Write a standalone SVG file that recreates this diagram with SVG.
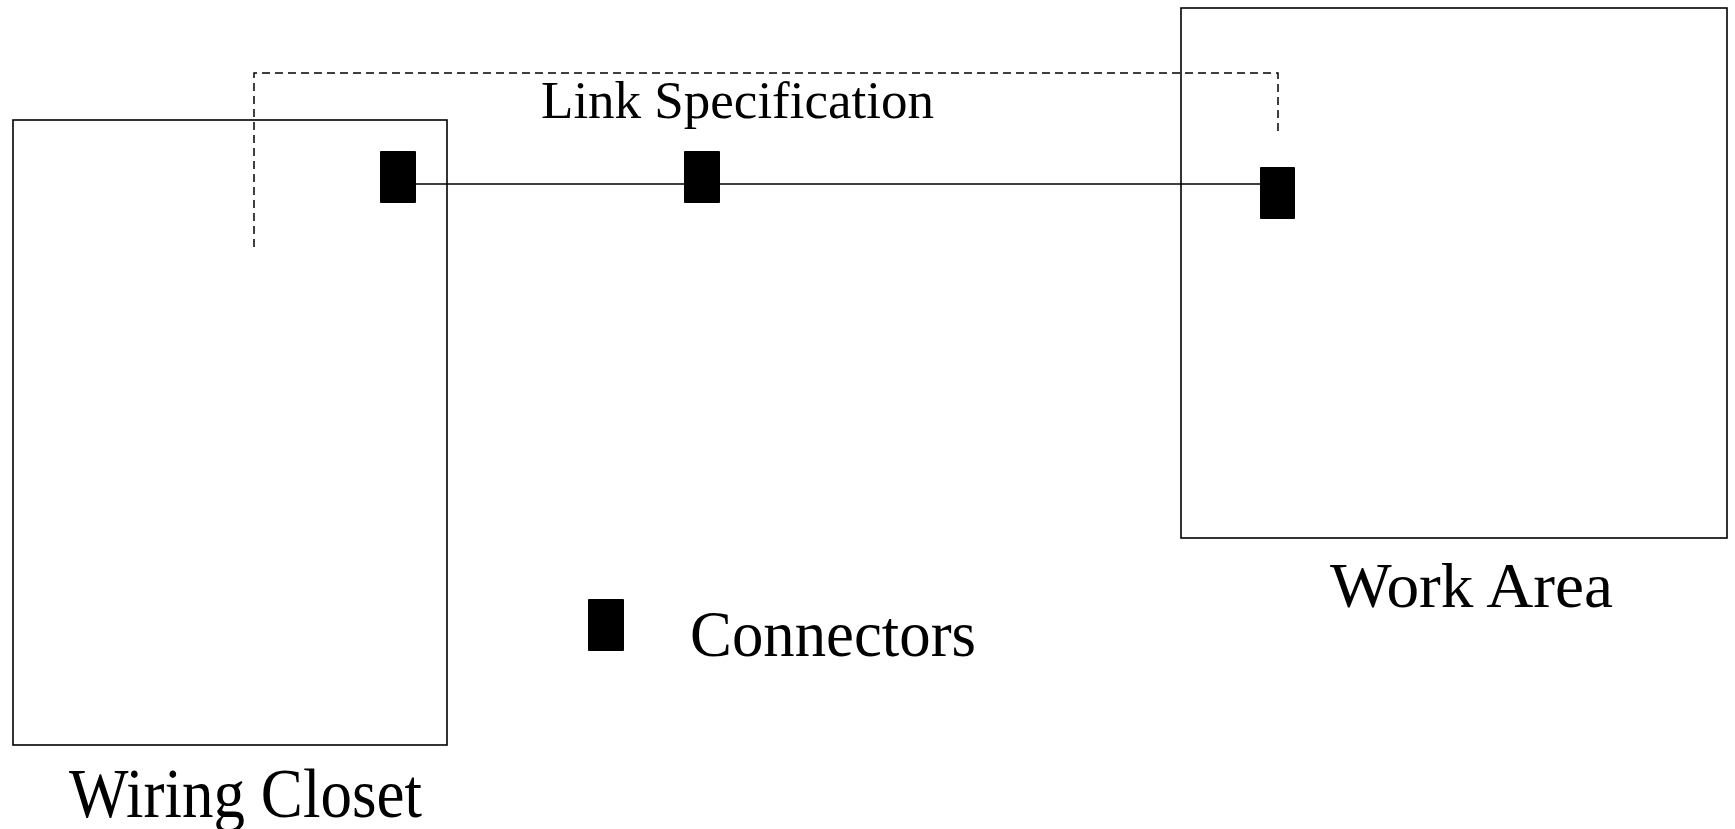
<svg xmlns="http://www.w3.org/2000/svg" width="1735" height="829" viewBox="0 0 1735 829">
<style>
.box{fill:none;stroke:#000;stroke-width:1.6}
.conn{fill:#000}
.wire{fill:none;stroke:#000;stroke-width:1.5}
.dash{fill:none;stroke:#000;stroke-width:1.5;stroke-dasharray:8 5}
.lbl{font-family:"Liberation Serif","Times New Roman",serif;fill:#000}
</style>
<rect width="1735" height="829" fill="#fff"/>
<g id="wiring-closet">
<rect class="box" x="13" y="120" width="434" height="625"/>
<text class="lbl" x="69" y="817" font-size="70" textLength="353" lengthAdjust="spacingAndGlyphs">Wiring Closet</text>
</g>
<g id="work-area">
<rect class="box" x="1181" y="8" width="546" height="530"/>
<text class="lbl" x="1330" y="607" font-size="64" textLength="283" lengthAdjust="spacingAndGlyphs">Work Area</text>
</g>
<g id="connectors">
<line class="wire" x1="415" y1="184" x2="1261" y2="184"/>
<polyline class="dash" points="254,247 254,73 1278,73 1278,136"/>
</g>
<g id="connector-1"><rect class="conn" x="380" y="151" width="36" height="52" rx="1"/></g>
<g id="connector-2"><rect class="conn" x="684" y="151" width="36" height="52" rx="1"/></g>
<g id="connector-3"><rect class="conn" x="1260" y="167" width="35" height="52" rx="1"/></g>
<g id="link-label">
<text class="lbl" x="541" y="117.5" font-size="52" textLength="393" lengthAdjust="spacingAndGlyphs">Link Specification</text>
</g>
<g id="legend">
<rect class="conn" x="588" y="599" width="36" height="52" rx="1"/>
<text class="lbl" x="690" y="656" font-size="66" textLength="286" lengthAdjust="spacingAndGlyphs">Connectors</text>
</g>
</svg>
